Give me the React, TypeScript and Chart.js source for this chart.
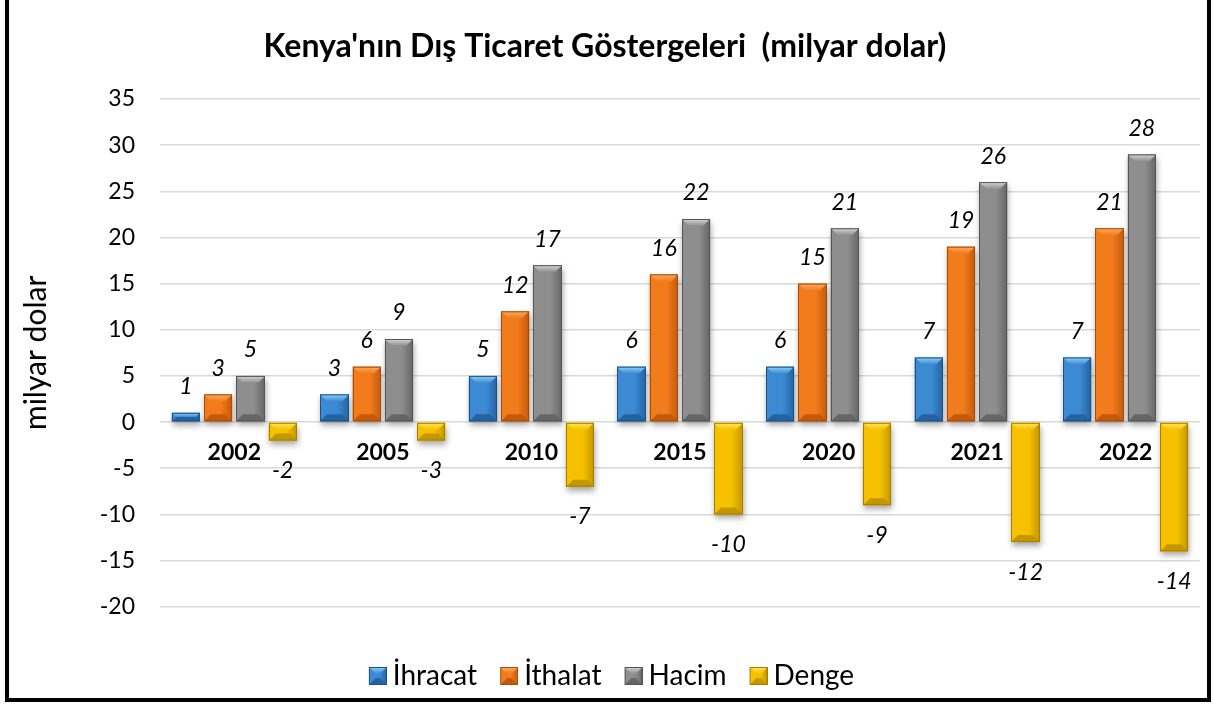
import { useEffect, useRef } from "react";
import { Chart, registerables } from "chart.js";

Chart.register(...registerables);

const categories = ["2002", "2005", "2010", "2015", "2020", "2021", "2022"];
const seriesNames = ["İhracat", "İthalat", "Hacim", "Denge"];
// bar heights as drawn
const ihracat = [1, 3, 5, 6, 6, 7, 7];
const ithalat = [3, 6, 12, 16, 15, 19, 21];
const hacim = [5, 9, 17, 22, 21, 26, 29];
const denge = [-2, -2, -7, -10, -9, -13, -14];
// data label texts as printed
const ihracatLabels = ["1", "3", "5", "6", "6", "7", "7"];
const ithalatLabels = ["3", "6", "12", "16", "15", "19", "21"];
const hacimLabels = ["5", "9", "17", "22", "21", "26", "28"];
const dengeLabels = ["-2", "-3", "-7", "-10", "-9", "-12", "-14"];

const titleText = "Kenya'nın Dış Ticaret Göstergeleri  (milyar dolar)";
const yTitle = "milyar dolar";

const FONT = "Lato, 'Open Sans', sans-serif";
const LEGEND_FONT = 28;
const LEGEND_W = 23;

type Pal = { base: string; light: string; dark: string; edge: string };
const palettes: Pal[] = [
  { base: "#3b8ad3", light: "#8fd2f7", dark: "#24639f", edge: "#1d5187" },
  { base: "#f27b1c", light: "#f9ad63", dark: "#c25a0c", edge: "#a84c08" },
  { base: "#8e8e8e", light: "#d6d6d6", dark: "#666666", edge: "#555555" },
  { base: "#f6c200", light: "#fde65c", dark: "#c49600", edge: "#a67f00" },
];

function bevel(ctx: CanvasRenderingContext2D, x0: number, y0: number, x1: number, y1: number, p: Pal) {
  const w = x1 - x0;
  const h = y1 - y0;
  if (w <= 0 || h <= 0) return;
  const b = Math.min(7, w / 2, h / 2);
  const g = ctx.createLinearGradient(x0, 0, x1, 0);
  g.addColorStop(0, p.base);
  g.addColorStop(0.6, p.base);
  g.addColorStop(1, p.dark);
  ctx.fillStyle = g;
  ctx.fillRect(x0, y0, w, h);
  const gt = ctx.createLinearGradient(0, y0, 0, y0 + b);
  gt.addColorStop(0, p.light);
  gt.addColorStop(1, p.base);
  ctx.fillStyle = gt;
  ctx.beginPath();
  ctx.moveTo(x0, y0);
  ctx.lineTo(x1, y0);
  ctx.lineTo(x1 - b, y0 + b);
  ctx.lineTo(x0 + b, y0 + b);
  ctx.closePath();
  ctx.fill();
  ctx.fillStyle = p.dark;
  ctx.beginPath();
  ctx.moveTo(x0, y1);
  ctx.lineTo(x1, y1);
  ctx.lineTo(x1 - b, y1 - b);
  ctx.lineTo(x0 + b, y1 - b);
  ctx.closePath();
  ctx.fill();
  ctx.strokeStyle = p.edge;
  ctx.lineWidth = 1;
  ctx.strokeRect(x0 + 0.5, y0 + 0.5, w - 1, h - 1);
}

function makeIcon(p: Pal): HTMLCanvasElement {
  const c = document.createElement("canvas");
  const cw = LEGEND_W + LEGEND_FONT - 12;
  c.width = cw;
  c.height = 18;
  const ctx = c.getContext("2d")!;
  bevel(ctx, cw - 18, 0, cw, 18, p);
  return c;
}

const labelSets = [ihracatLabels, ithalatLabels, hacimLabels, dengeLabels];

const barDecor = {
  id: "barDecor",
  beforeDatasetsDraw(chart: any) {
    const ctx = chart.ctx;
    ctx.save();
    ctx.shadowColor = "rgba(0,0,0,0.35)";
    ctx.shadowBlur = 6;
    ctx.shadowOffsetY = 4;
    ctx.shadowOffsetX = 1;
  },
  afterDatasetsDraw(chart: any) {
    const ctx = chart.ctx;
    ctx.restore();
    ctx.save();
    chart.data.datasets.forEach((ds: any, di: number) => {
      const meta = chart.getDatasetMeta(di);
      meta.data.forEach((el: any) => {
        const { x, y, base, width } = el.getProps(["x", "y", "base", "width"], true);
        const top = Math.min(y, base);
        const bot = Math.max(y, base);
        bevel(ctx, Math.round(x - width / 2), top, Math.round(x + width / 2), bot, palettes[di]);
      });
    });
    ctx.font = `italic 23px ${FONT}`;
    ctx.fillStyle = "#000";
    ctx.textAlign = "center";
    ctx.textBaseline = "middle";
    chart.data.datasets.forEach((ds: any, di: number) => {
      const meta = chart.getDatasetMeta(di);
      meta.data.forEach((el: any, i: number) => {
        const { x, y } = el.getProps(["x", "y"], true);
        const v = ds.data[i];
        const ly = v >= 0 ? y - 26 : y + 30;
        ctx.fillText(labelSets[di][i], x, ly);
      });
    });
    ctx.restore();
  },
};

export default function App() {
  const ref = useRef<HTMLCanvasElement>(null);
  useEffect(() => {
    const icons = palettes.map(makeIcon);
    const series = [ihracat, ithalat, hacim, denge];
    const chart = new Chart(ref.current!, {
      type: "bar",
      data: {
        labels: categories,
        datasets: series.map((d, i) => ({
          label: seriesNames[i],
          data: d,
          backgroundColor: palettes[i].base,
          borderWidth: 0,
          categoryPercentage: 0.87,
          barPercentage: 0.875,
        })),
      },
      options: {
        animation: false,
        responsive: false,
        maintainAspectRatio: false,
        layout: { padding: { left: 10, right: 13, top: 0, bottom: 4 } },
        plugins: {
          title: {
            display: true,
            text: titleText,
            color: "#000",
            font: { family: FONT, size: 32, weight: "bold" },
            padding: { top: 27, bottom: 33.6 },
          },
          legend: {
            position: "bottom",
            labels: {
              color: "#000",
              font: { family: FONT, size: LEGEND_FONT },
              usePointStyle: true,
              pointStyleWidth: LEGEND_W,
              boxHeight: 18,
              padding: 10,
              generateLabels: (c: any) => {
                const items = Chart.defaults.plugins.legend.labels.generateLabels(c);
                return items.map((it: any, i: number) => ({ ...it, pointStyle: icons[i] }));
              },
            },
          },
          tooltip: { enabled: false },
        },
        scales: {
          x: {
            type: "category",
            position: { y: 0 } as any,
            grid: { display: false, drawTicks: false },
            border: { display: false },
            ticks: {
              color: "#000",
              font: { family: FONT, size: 23, weight: "bold" },
              padding: 17,
            },
          },
          pad: {
            type: "category",
            position: "bottom",
            grid: { display: false, drawTicks: false },
            border: { display: false },
            ticks: { display: false },
            afterFit: (s: any) => {
              s.height = 45.3;
            },
          },
          y: {
            min: -20,
            max: 35,
            ticks: {
              stepSize: 5,
              color: "#000",
              font: { family: FONT, size: 23 },
              padding: 25,
            },
            grid: { color: "#d9d9d9", lineWidth: 1.5, drawTicks: false },
            border: { display: false },
            title: {
              display: true,
              text: yTitle,
              color: "#000",
              font: { family: FONT, size: 30 },
              padding: { top: 8, bottom: 0 },
            },
            afterFit: (s: any) => {
              s.width = 150;
            },
          },
        },
      },
      plugins: [barDecor],
    });
    return () => chart.destroy();
  }, []);
  return (
    <div style={{ position: "absolute", left: 0, top: 0, width: 1213, height: 704, background: "#fff", overflow: "hidden" }}>
      <canvas ref={ref} width={1213} height={704} style={{ display: "block" }} />
      <div
        style={{
          position: "absolute",
          left: 5,
          top: -4,
          width: 1206,
          height: 706,
          border: "4px solid #000",
          boxSizing: "border-box",
          pointerEvents: "none",
        }}
      />
    </div>
  );
}
